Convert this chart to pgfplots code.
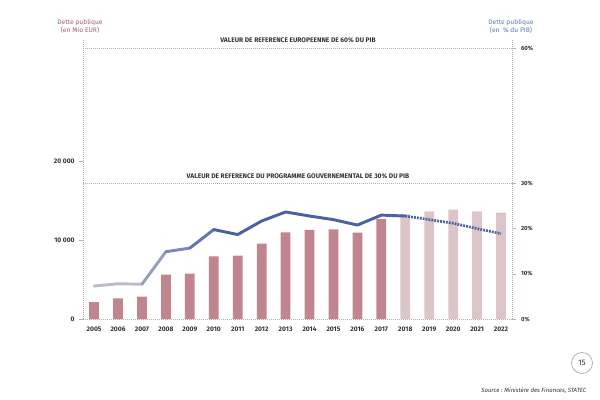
\documentclass[border=0pt]{standalone}
\usepackage{pgfplots}
\pgfplotsset{compat=1.18}
\usepackage{fontspec}
\setmainfont{Fira Sans}
\definecolor{barDark}{HTML}{C0858F}
\definecolor{barLight}{HTML}{DCC5C9}
\definecolor{lineDark}{HTML}{4A62A3}
\definecolor{lblMauve}{HTML}{A35A75}
\definecolor{lblBlue}{HTML}{5B78B5}
\definecolor{axGray}{HTML}{B0B0B0}
\definecolor{txtGray}{HTML}{333333}
\begin{document}
\begin{tikzpicture}[x=0.75pt,y=-0.75pt]
\useasboundingbox (0,0) rectangle (600,400);
\pgfplotsset{
  base/.style={
    at={(62.475pt,-239.25pt)}, anchor=south west,
    scale only axis, width=321.75pt, height=203.25pt,
    xmin=-0.45, xmax=17.47,
    tick align=outside, major tick length=3pt,
    tick style={axGray, solid, line width=0.5pt},
    axis line style={axGray, densely dotted, line width=0.5pt, -},
    ticklabel style={font=\fontsize{5}{6}\selectfont\bfseries, text=txtGray},
    scaled y ticks=false,
    clip=false,
  }
}
\begin{axis}[base,
  ymin=0, ymax=34300,
  axis x line*=bottom, axis y line*=left,
  ytick={0,10000,20000}, yticklabels={0,10 000,20 000},
  xtick={0,...,17},
  xticklabels={2005,2006,2007,2008,2009,2010,2011,2012,2013,2014,2015,2016,2017,2018,2019,2020,2021,2022},
  x tick style={draw=none},
  xticklabel style={text height=4pt, text depth=0pt, yshift=1pt},
  ybar, bar width=7.3pt, bar shift=0pt,
]
\addplot[fill=barDark, draw=none] coordinates {
(0,2150) (1,2620) (2,2820) (3,5610) (4,5730) (5,7940) (6,8010) (7,9530)
(8,10970) (9,11270) (10,11350) (11,10920) (12,12660)};
\addplot[fill=barLight, draw=none] coordinates {
(13,13250) (14,13630) (15,13840) (16,13630) (17,13460)};
\end{axis}
\begin{axis}[base,
  ymin=0, ymax=60,
  axis y line*=right, axis x line=none,
  ytick={0,10,20,30,60}, yticklabels={0\%,10\%,20\%,30\%,60\%},
  yticklabel style={font=\fontsize{4.5}{6}\selectfont\bfseries},
]
\draw[axGray, densely dotted, line width=0.5pt] (axis cs:-0.45,60) -- (axis cs:17.47,60);
\draw[axGray, densely dotted, line width=0.5pt] (axis cs:-0.45,30) -- (axis cs:17.47,30);
\pgfplotsset{every axis plot/.append style={line width=2.2pt, line cap=round, line join=round}}
\addplot[color={rgb,255:red,185;green,188;blue,203}] coordinates {(0,7.3) (1,7.8) (2,7.7)};
\addplot[color={rgb,255:red,150;green,158;blue,190}] coordinates {(2,7.7) (3,14.9)};
\addplot[color={rgb,255:red,124;green,136;blue,182}] coordinates {(3,14.9) (4,15.7)};
\addplot[color={rgb,255:red,100;green,116;blue,174}] coordinates {(4,15.7) (5,19.8)};
\addplot[color=lineDark] coordinates {(5,19.8) (6,18.7) (7,21.7) (8,23.7) (9,22.8) (10,22.0) (11,20.8) (12,23.0) (13,22.8)};
\addplot[color=lineDark, line width=2pt, line cap=butt, dash pattern=on 1.4pt off 0.8pt] coordinates {(13,22.8) (14,22.0) (15,21.2) (16,20.0) (17,18.9)};
\end{axis}
\draw[axGray, densely dotted, line width=0.5pt] (83.3,40) -- (83.3,48);
\draw[axGray, densely dotted, line width=0.5pt] (512.3,40) -- (512.3,48);
\node[font=\fontsize{5}{6}\selectfont, text=lblMauve, align=center] at (80,26) {Dette publique\\(en Mio EUR)};
\node[font=\fontsize{5}{6}\selectfont, text=lblBlue, align=center] at (511,26) {Dette publique\\(en ~\% du PIB)};
\node[font=\fontsize{5}{6}\selectfont\bfseries, text=txtGray] at (298,40) {VALEUR DE REFERENCE EUROPEENNE DE 60\% DU PIB};
\node[font=\fontsize{5}{6}\selectfont\bfseries, text=txtGray] at (298,176) {VALEUR DE REFERENCE DU PROGRAMME GOUVERNEMENTAL DE 30\% DU PIB};
\draw[gray!70, line width=0.5pt] (582,363) circle (10.5);
\node[font=\fontsize{6}{7}\selectfont, text=txtGray] at (582,363) {15};
\node[font=\fontsize{4.5}{6}\selectfont\itshape, text=txtGray, anchor=east] at (591,391) {Source : Ministère des Finances, STATEC};
\end{tikzpicture}
\end{document}
